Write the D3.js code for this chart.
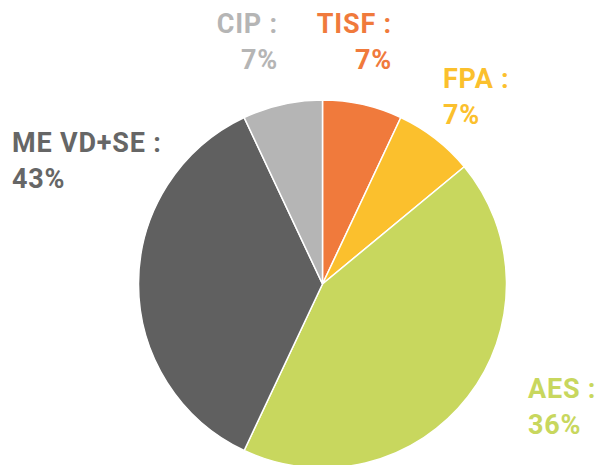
<!DOCTYPE html>
<html>
<head>
<meta charset="utf-8">
<script src="https://cdn.jsdelivr.net/npm/d3@7"></script>
<style>
  body { margin: 0; background: #fff; }
  text { font-family: Roboto, "Liberation Sans", sans-serif; font-weight: bold; }
</style>
</head>
<body>
<script>
// slices, clockwise from 12 o'clock
var categories = ["TISF", "FPA", "AES", "ME VD+SE", "CIP"];
var values = [7, 7, 43, 36, 7];
// percentages as printed on the chart labels
var shownPct = ["7%", "7%", "36%", "43%", "7%"];
var colors = ["#f07a3c", "#fbc02d", "#c8d75e", "#606060", "#b5b5b5"];

var width = 601, height = 465;
var cx = 322.5, cy = 284, radius = 184;

// label boxes: x, first baseline, anchor
var labelPos = [
  { x: 392, y: 33, anchor: "end" },
  { x: 443, y: 88, anchor: "start" },
  { x: 528, y: 398, anchor: "start" },
  { x: 12, y: 152, anchor: "start" },
  { x: 278, y: 33, anchor: "end" }
];

var svg = d3.select("body").append("svg")
  .attr("width", width)
  .attr("height", height);

var pie = d3.pie().sort(null).value(function(d) { return d; });
var arc = d3.arc().innerRadius(0).outerRadius(radius);

var g = svg.append("g").attr("transform", "translate(" + cx + "," + cy + ")");

g.selectAll("path")
  .data(pie(values))
  .enter()
  .append("path")
  .attr("d", arc)
  .attr("fill", function(d, i) { return colors[i]; })
  .attr("stroke", "#fff")
  .attr("stroke-width", 1.5);

var labels = svg.selectAll(".lbl")
  .data(categories)
  .enter()
  .append("text")
  .attr("class", "lbl")
  .attr("fill", function(d, i) { return i == 3 ? "#666" : colors[i]; })
  .attr("font-size", 27)
  .attr("letter-spacing", 0.8)
  .attr("text-anchor", function(d, i) { return labelPos[i].anchor; });

labels.append("tspan")
  .attr("x", function(d, i) { return labelPos[i].x; })
  .attr("y", function(d, i) { return labelPos[i].y; })
  .text(function(d) { return d + " :"; });

labels.append("tspan")
  .attr("x", function(d, i) { return labelPos[i].x; })
  .attr("y", function(d, i) { return labelPos[i].y + 36; })
  .text(function(d, i) { return shownPct[i]; });
</script>
</body>
</html>
